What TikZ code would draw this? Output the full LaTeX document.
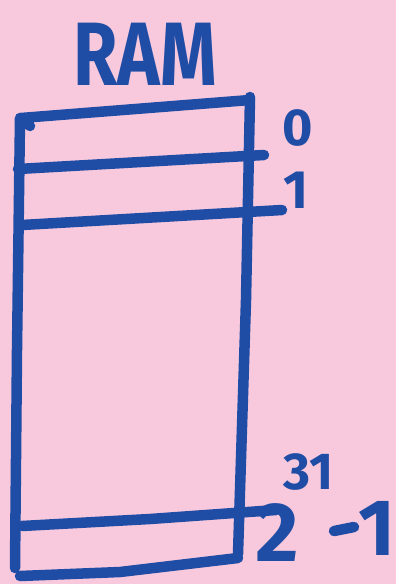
\documentclass[tikz,border=0pt]{standalone}
\usepackage{fontspec}
\setmainfont{Fira Sans}
\definecolor{paper}{HTML}{F8C9DD}
\definecolor{ink}{HTML}{1F4CA5}
\tikzset{
  pen/.style={draw=ink, line width=10.5pt, line cap=round, line join=round},
  hand/.style={text=ink, font=\bfseries, inner sep=0pt, anchor=center}
}
\begin{document}
\begin{tikzpicture}[x=1pt,y=-1pt]
\fill[paper] (0,0) rectangle (396,584);
\useasboundingbox (0,0) rectangle (396,584);
% outline
\draw[pen] (30,126) -- (21,118) -- (250,100);
\draw[pen] (250,97) -- (246,300) -- (238,554);
\draw[pen] (20,118) -- (17,350) -- (15,568);
\draw[pen] (20,576) -- (120,572) -- (238,558);
% row lines
\draw[pen] (18,169) -- (264,155);
\draw[pen] (22,225) -- (282,210);
\draw[pen] (22,526) -- (150,519) -- (276,510);
% labels
\node[hand, font=\bfseries\fontsize{90}{90}\selectfont, xscale=0.8] (ram) at (145,54) {RAM};
\node[hand, font=\bfseries\fontsize{52}{52}\selectfont] (l0) at (298,128) {0};
\node[hand, font=\bfseries\fontsize{54}{54}\selectfont] (l1) at (296,190) {1};
\node[hand, font=\bfseries\fontsize{84}{84}\selectfont] (l2) at (277,533) {2};
\node[hand, font=\bfseries\fontsize{52}{52}\selectfont] (l31) at (309,472) {31};
\draw[pen] (334,531) -- (354,527);
\node[hand, font=\bfseries\fontsize{80}{80}\selectfont] (lm1) at (377,528) {1};
\end{tikzpicture}
\end{document}
